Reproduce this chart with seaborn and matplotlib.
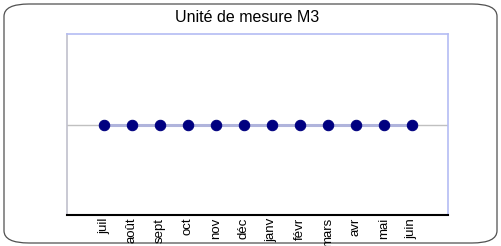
import numpy as np
import pandas as pd
import matplotlib.pyplot as plt
import seaborn as sns
from matplotlib.patches import FancyBboxPatch

months = ['juil', 'août', 'sept', 'oct', 'nov', 'déc', 'janv', 'févr', 'mars', 'avr', 'mai', 'juin']
values = [0, 0, 0, 0, 0, 0, 0, 0, 0, 0, 0, 0]
title = 'Unité de mesure M3'

df = pd.DataFrame({'mois': np.arange(len(months)), 'valeur': values})

sns.set_style('white')
plt.rcParams['font.family'] = ['Liberation Sans', 'DejaVu Sans']
plt.rcParams['text.color'] = 'black'
plt.rcParams['xtick.color'] = 'black'

fig = plt.figure(figsize=(5.01, 2.46), dpi=100)
ax = fig.add_axes([67 / 501, 1 - 215 / 246, (448 - 67) / 501, (215 - 34) / 246])

# outer rounded frame
frame = FancyBboxPatch((4 / 501, 3 / 246), 493 / 501, 239 / 246,
                       boxstyle='round,pad=0,rounding_size=0.05',
                       transform=fig.transFigure, fill=False,
                       edgecolor='#505050', linewidth=0.9, zorder=-1)
fig.patches.append(frame)

ax.axhline(0, color='#c0c0c0', linewidth=1, zorder=1)
sns.lineplot(data=df, x='mois', y='valeur', ax=ax, color='#b0b4dc', linewidth=2.2,
             marker='o', markersize=7.5, markerfacecolor='#000080',
             markeredgecolor='#000080', zorder=3)

ax.set_xlim(-1.32, 12.3)
ax.set_ylim(-1, 1)
ax.set_yticks([])
ax.set_xticks(np.arange(len(months)))
ax.set_xticklabels(months, rotation=90, fontsize=9.5, va='top', color='black')
ax.tick_params(axis='x', length=0, pad=2)
ax.set_xlabel('')
ax.set_ylabel('')

ax.spines['left'].set_color('#c0c0cc')
ax.spines['left'].set_linewidth(1.2)
ax.spines['top'].set_color('#b4bcf4')
ax.spines['top'].set_linewidth(1.2)
ax.spines['right'].set_color('#b4bcf4')
ax.spines['right'].set_linewidth(1.2)
ax.spines['bottom'].set_color('#000000')
ax.spines['bottom'].set_linewidth(1.5)

fig.text(247 / 501, 1 - 18 / 246, title, ha='center', va='center', fontsize=11.5, color='black')

fig.savefig('out.png', dpi=100)
